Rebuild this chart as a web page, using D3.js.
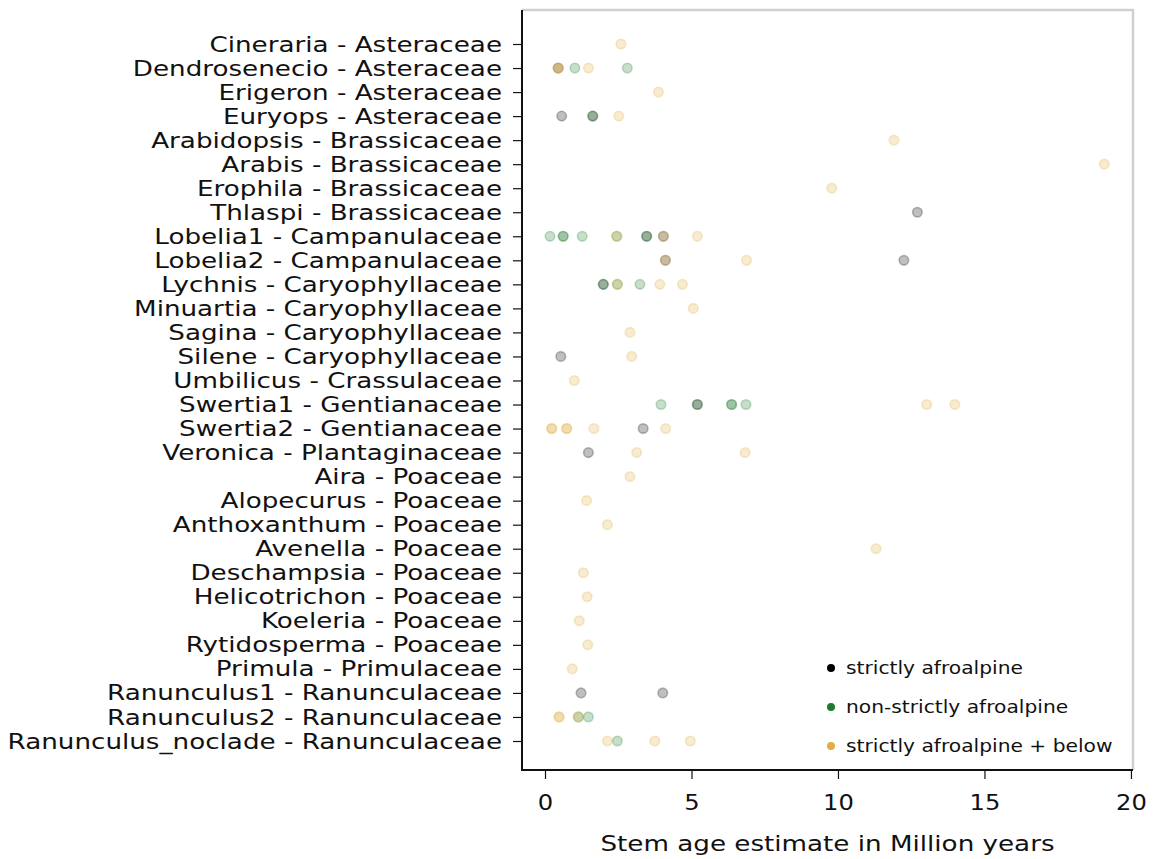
<!DOCTYPE html>
<html>
<head>
<meta charset="utf-8">
<script src="https://cdn.jsdelivr.net/npm/d3@7/dist/d3.min.js"></script>
<style>
  html, body { margin: 0; padding: 0; background: #fff; }
  svg { display: block; }
  text { font-family: "DejaVu Sans", sans-serif; fill: #111; }
</style>
</head>
<body>
<svg id="chart" width="1154" height="859"></svg>
<script>
// Taxa shown on the y axis, top to bottom
const taxa = [
  "Cineraria - Asteraceae",
  "Dendrosenecio - Asteraceae",
  "Erigeron - Asteraceae",
  "Euryops - Asteraceae",
  "Arabidopsis - Brassicaceae",
  "Arabis - Brassicaceae",
  "Erophila - Brassicaceae",
  "Thlaspi - Brassicaceae",
  "Lobelia1 - Campanulaceae",
  "Lobelia2 - Campanulaceae",
  "Lychnis - Caryophyllaceae",
  "Minuartia - Caryophyllaceae",
  "Sagina - Caryophyllaceae",
  "Silene - Caryophyllaceae",
  "Umbilicus - Crassulaceae",
  "Swertia1 - Gentianaceae",
  "Swertia2 - Gentianaceae",
  "Veronica - Plantaginaceae",
  "Aira - Poaceae",
  "Alopecurus - Poaceae",
  "Anthoxanthum - Poaceae",
  "Avenella - Poaceae",
  "Deschampsia - Poaceae",
  "Helicotrichon - Poaceae",
  "Koeleria - Poaceae",
  "Rytidosperma - Poaceae",
  "Primula - Primulaceae",
  "Ranunculus1 - Ranunculaceae",
  "Ranunculus2 - Ranunculaceae",
  "Ranunculus_noclade - Ranunculaceae"
];

// Stem age estimates (Ma), as [taxon index, age]
const strictlyAfroalpine = [
  [1, 0.45], [3, 0.57], [3, 1.63], [7, 12.71],
  [8, 3.47], [8, 4.04], [9, 4.11], [9, 12.25],
  [10, 1.99], [13, 0.54], [15, 5.20], [16, 3.35],
  [17, 1.48], [27, 1.23], [27, 4.02]
];

const nonStrictlyAfroalpine = [
  [1, 1.02], [1, 2.81], [3, 1.63],
  [8, 0.17], [8, 0.62], [8, 0.62], [8, 1.27], [8, 2.45], [8, 3.47],
  [10, 1.99], [10, 2.47], [10, 3.24],
  [15, 3.96], [15, 5.20], [15, 6.37], [15, 6.37], [15, 6.86],
  [28, 1.14], [28, 1.48], [29, 2.47]
];

const afroalpineAndBelow = [
  [0, 2.59], [1, 0.45], [1, 0.45], [1, 1.48], [2, 3.87],
  [3, 2.52], [4, 11.91], [5, 19.09], [6, 9.79],
  [8, 2.45], [8, 4.04], [8, 5.20], [9, 4.11], [9, 6.88],
  [10, 2.47], [10, 3.92], [10, 4.69], [11, 5.06],
  [12, 2.90], [13, 2.96], [14, 1.00],
  [15, 13.03], [15, 13.99],
  [16, 0.23], [16, 0.23], [16, 0.74], [16, 0.74], [16, 1.67], [16, 4.12],
  [17, 3.13], [17, 6.83], [18, 2.90], [19, 1.42], [20, 2.13],
  [21, 11.30], [22, 1.31], [23, 1.44], [24, 1.17], [25, 1.46], [26, 0.93],
  [28, 0.48], [28, 0.48], [28, 1.14],
  [29, 2.13], [29, 3.75], [29, 4.96]
];

const xTicks = [0, 5, 10, 15, 20];

const groups = [
  { name: "strictly afroalpine", color: "#000000", data: strictlyAfroalpine },
  { name: "non-strictly afroalpine", color: "#1f7a2e", data: nonStrictlyAfroalpine },
  { name: "strictly afroalpine + below", color: "#e0ae44", data: afroalpineAndBelow }
];

const svg = d3.select("#chart");
const plot = { left: 522, right: 1133, top: 10, bottom: 770 };
const stretch = 1.19; // horizontal stretch applied to the text

const x = d3.scaleLinear().domain([-0.785, 20.07]).range([plot.left, plot.right]);
const y = d3.scalePoint().domain(taxa).range([44, 741]);

// light top/right frame
svg.append("path")
  .attr("d", `M${plot.left},${plot.top}H${plot.right}V${plot.bottom}`)
  .attr("fill", "none").attr("stroke", "#cfcfcf").attr("stroke-width", 2.5);

// points
const pts = svg.append("g");
groups.forEach(g => {
  pts.selectAll(null).data(g.data).enter().append("circle")
    .attr("cx", d => x(d[1]))
    .attr("cy", d => y(taxa[d[0]]))
    .attr("r", 4.8)
    .attr("fill", g.color).attr("fill-opacity", 0.25)
    .attr("stroke", g.color).attr("stroke-opacity", 0.25).attr("stroke-width", 1.6);
});

// y axis
const yAxis = svg.append("g")
  .attr("transform", `translate(${plot.left},0)`)
  .call(d3.axisLeft(y).tickSize(9).tickPadding(11));
yAxis.select(".domain").remove();
yAxis.selectAll(".tick line").attr("stroke", "#111").attr("stroke-width", 1.2);
yAxis.selectAll(".tick text")
  .attr("font-size", 22).attr("font-family", "DejaVu Sans").attr("fill", "#111")
  .attr("transform", `scale(${stretch},1)`)
  .attr("x", -20 / stretch);

// x axis
const xAxis = svg.append("g")
  .attr("transform", `translate(0,${plot.bottom})`)
  .call(d3.axisBottom(x).tickValues(xTicks).tickSize(9).tickPadding(15));
xAxis.select(".domain").remove();
xAxis.selectAll(".tick line").attr("stroke", "#111").attr("stroke-width", 1.2);
xAxis.selectAll(".tick text")
  .attr("font-size", 22).attr("font-family", "DejaVu Sans").attr("fill", "#111")
  .attr("transform", "scale(1.1,1)");

// black left and bottom spines
svg.append("path")
  .attr("d", `M${plot.left},${plot.top}V${plot.bottom}H${plot.right}`)
  .attr("fill", "none").attr("stroke", "#111").attr("stroke-width", 2);

// axis title
svg.append("text")
  .attr("transform", `translate(${(plot.left + plot.right) / 2},851) scale(${stretch},1)`)
  .attr("text-anchor", "middle").attr("font-size", 22)
  .text("Stem age estimate in Million years");

// legend
const legend = svg.append("g");
groups.forEach((g, i) => {
  const ly = 668 + i * 39;
  legend.append("circle").attr("cx", 831).attr("cy", ly).attr("r", 4).attr("fill", g.color);
  legend.append("text")
    .attr("transform", `translate(846,${ly + 6}) scale(${stretch},1)`)
    .attr("font-size", 17).attr("fill", "#222")
    .text(g.name);
});
</script>
</body>
</html>
